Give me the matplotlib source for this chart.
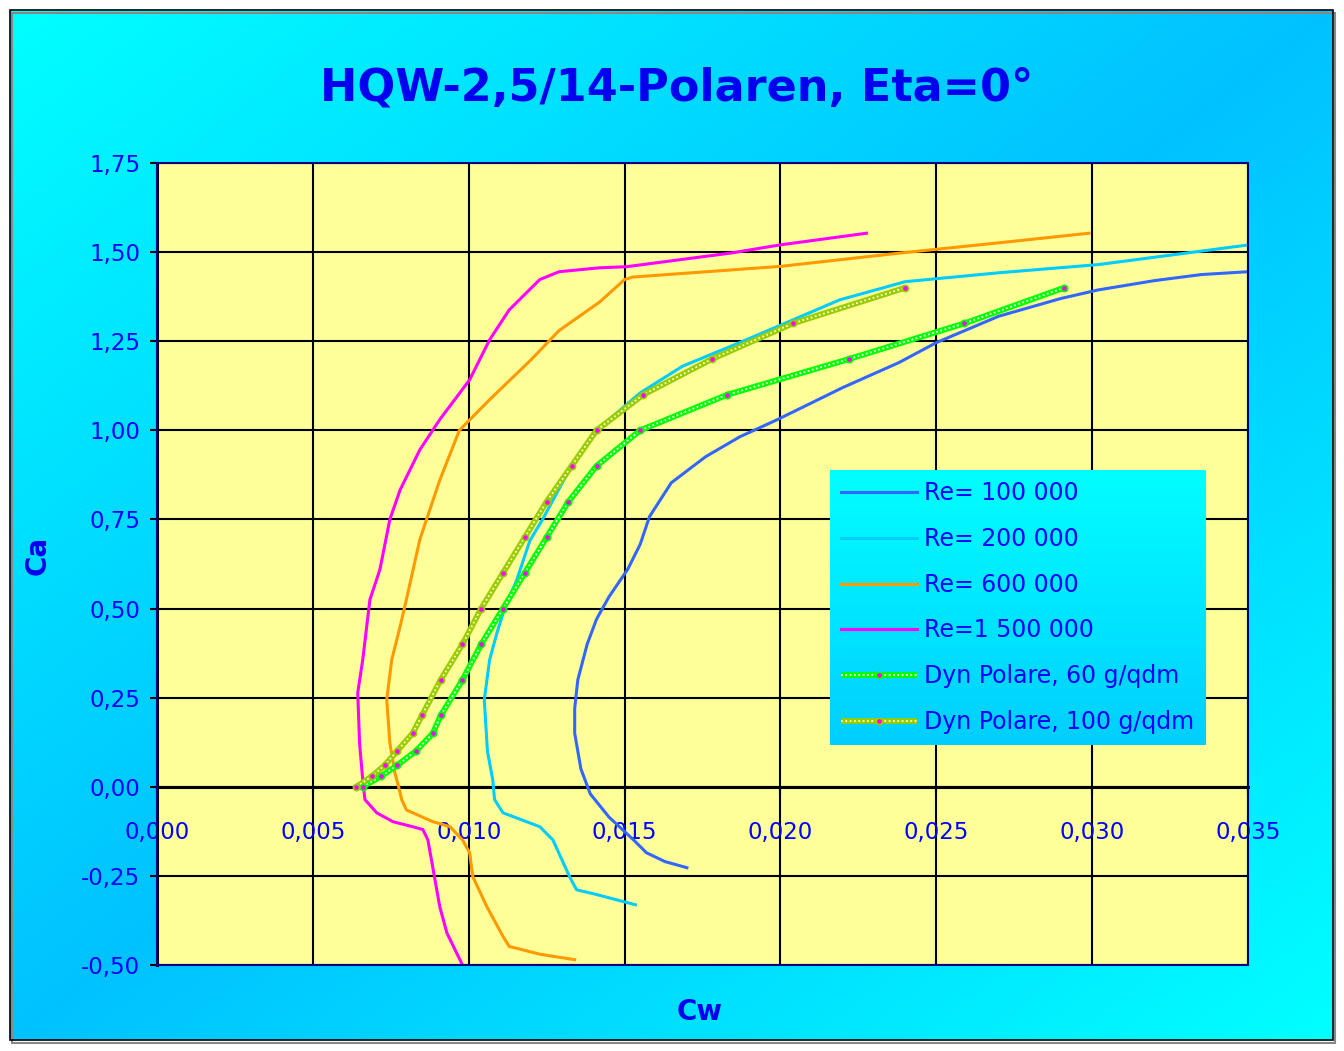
import matplotlib
matplotlib.use("Agg")
import matplotlib.pyplot as plt
from matplotlib.patches import Rectangle
import numpy as np

re100_cw = [0.0170, 0.0163, 0.0157, 0.0153, 0.0145, 0.0139, 0.0136, 0.0134, 0.0134, 0.0135,
            0.0138, 0.0141, 0.0145, 0.0151, 0.0155, 0.0158, 0.0165, 0.0176, 0.0187, 0.0199,
            0.0220, 0.0238, 0.0250, 0.0270, 0.0290, 0.0302, 0.0320, 0.0335, 0.0350]
re100_ca = [-0.227, -0.21, -0.185, -0.15, -0.085, -0.02, 0.05, 0.15, 0.22, 0.30,
            0.40, 0.47, 0.533, 0.61, 0.68, 0.758, 0.853, 0.926, 0.982, 1.03,
            1.12, 1.19, 1.246, 1.32, 1.37, 1.394, 1.42, 1.437, 1.445]

re200_cw = [0.01535, 0.0140, 0.01346, 0.01324, 0.0127, 0.01228, 0.0111, 0.01083, 0.01077, 0.0106,
            0.0105, 0.01067, 0.0109, 0.01115, 0.01154, 0.01196, 0.01237, 0.0128, 0.0133, 0.0141,
            0.0155, 0.01686, 0.01869, 0.0219, 0.0240, 0.0270, 0.0302, 0.0350]
re200_ca = [-0.331, -0.30, -0.289, -0.253, -0.149, -0.112, -0.073, -0.036, 0.02, 0.10,
            0.244, 0.356, 0.43, 0.50, 0.58, 0.69, 0.75, 0.82, 0.90, 1.00,
            1.105, 1.18, 1.246, 1.366, 1.417, 1.442, 1.465, 1.52]

re600_cw = [0.0134, 0.0123, 0.0113, 0.0111, 0.01058, 0.01013, 0.01003, 0.0098, 0.0094, 0.00885,
            0.0080, 0.00785, 0.0078, 0.00763, 0.00747, 0.00737, 0.00753, 0.0078, 0.0080, 0.00843,
            0.00907, 0.0097, 0.01067, 0.0120, 0.0129, 0.0142, 0.0150, 0.01526, 0.0200, 0.0238,
            0.0249, 0.0270, 0.0299]
re600_ca = [-0.485, -0.47, -0.448, -0.42, -0.336, -0.252, -0.185, -0.149, -0.112, -0.098,
            -0.065, -0.036, -0.017, 0.04, 0.123, 0.244, 0.356, 0.45, 0.525, 0.693,
            0.86, 1.0, 1.086, 1.198, 1.28, 1.36, 1.423, 1.43, 1.46, 1.497,
            1.507, 1.526, 1.553]

re1500_cw = [0.0098, 0.0093, 0.00907, 0.0089, 0.00869, 0.00853, 0.0082, 0.00757, 0.00705, 0.00667,
             0.0066, 0.0065, 0.00644, 0.0066, 0.00683, 0.00715, 0.00747, 0.0078, 0.00843, 0.00907,
             0.01003, 0.01067, 0.0113, 0.01228, 0.0129, 0.0142, 0.01506, 0.01846, 0.01997, 0.02276]
re1500_ca = [-0.5, -0.41, -0.336, -0.252, -0.149, -0.12, -0.112, -0.098, -0.073, -0.036,
             0.02, 0.12, 0.264, 0.356, 0.525, 0.609, 0.75, 0.833, 0.945, 1.03,
             1.142, 1.254, 1.338, 1.423, 1.445, 1.456, 1.459, 1.498, 1.52, 1.553]

dyn_ca = [0.0, 0.03, 0.06, 0.10, 0.15, 0.20, 0.30, 0.40, 0.50, 0.60,
          0.70, 0.80, 0.90, 1.00, 1.10, 1.20, 1.30, 1.40]
dyn60_cw = [0.0066, 0.0072, 0.0077, 0.0083, 0.00885, 0.0091, 0.0098, 0.0104, 0.0111, 0.0118,
            0.0125, 0.0132, 0.0141, 0.0155, 0.0183, 0.0222, 0.0259, 0.0291]
dyn100_cw = [0.0064, 0.0069, 0.0073, 0.0077, 0.0082, 0.0085, 0.0091, 0.0098, 0.0104, 0.0111,
             0.0118, 0.0125, 0.0133, 0.0141, 0.0156, 0.0178, 0.0204, 0.0240]

labels = ["Re= 100 000", "Re= 200 000", "Re= 600 000", "Re=1 500 000",
          "Dyn Polare, 60 g/qdm", "Dyn Polare, 100 g/qdm"]

xticks = [0.0, 0.005, 0.010, 0.015, 0.020, 0.025, 0.030, 0.035]
xticklabels = ["0,000", "0,005", "0,010", "0,015", "0,020", "0,025", "0,030", "0,035"]
yticks = [-0.5, -0.25, 0.0, 0.25, 0.5, 0.75, 1.0, 1.25, 1.5, 1.75]
yticklabels = ["-0,50", "-0,25", "0,00", "0,25", "0,50", "0,75", "1,00", "1,25", "1,50", "1,75"]

W, H = 1344, 1051
blau = "#0000ee"

fig = plt.figure(figsize=(W / 100, H / 100), dpi=100, facecolor="white")


def gradient(ext, diag=True):
    # cyan -> blau -> cyan entlang der Diagonale
    cyan = np.array([0.0, 1.0, 1.0])
    dunkel = np.array([0.0, 0.76, 1.0])
    u = np.linspace(0, 1, 200)
    v = np.linspace(0, 1, 200)
    U, V = np.meshgrid(u, v)
    if diag:
        t = (U + V) / 2
        w = 1 - np.abs(2 * t - 1)
    else:
        w = V * 0.8
    img = cyan[None, None, :] * (1 - w[..., None]) + dunkel[None, None, :] * w[..., None]
    g = fig.add_axes(ext, zorder=-10 if diag else 1)
    g.imshow(img, aspect="auto", extent=(0, 1, 1, 0), interpolation="bilinear")
    g.set_axis_off()
    return g


# Hintergrund
gradient([10 / W, 1 - 1040 / H, 1323 / W, 1030 / H])
fig.patches.append(Rectangle((12 / W, 1 - 1043 / H), 1323 / W, 1030 / H, transform=fig.transFigure,
                             fill=False, ec="#888888", lw=1.5, zorder=-9))
fig.patches.append(Rectangle((10 / W, 1 - 1040 / H), 1323 / W, 1030 / H, transform=fig.transFigure,
                             fill=False, ec="black", lw=1.2, zorder=-9))

ax = fig.add_axes([157 / W, 1 - 965 / H, (1248 - 157) / W, (965 - 163) / H])
ax.set_facecolor("#ffff99")

lw = 2.2
h1, = ax.plot(re100_cw, re100_ca, color="#3366ff", lw=lw, zorder=3)
h2, = ax.plot(re200_cw, re200_ca, color="#00ccff", lw=lw, zorder=3)
h3, = ax.plot(re600_cw, re600_ca, color="#ff9900", lw=lw, zorder=3)
h4, = ax.plot(re1500_cw, re1500_ca, color="#ff00ff", lw=lw, zorder=3)


def dyn(cw, farbe, punkte):
    a, = ax.plot(cw, dyn_ca, color=farbe, lw=4.2, zorder=4, solid_capstyle="butt")
    b, = ax.plot(cw, dyn_ca, color=punkte, lw=1.3, ls=(0, (1, 1.4)), zorder=4)
    c, = ax.plot(cw, dyn_ca, ls="none", marker="o", ms=4.5, mfc="#ff00ff", mec=farbe, mew=1.2, zorder=5)
    return (a, b, c)


h5 = dyn(dyn60_cw, "#00ff00", "white")
h6 = dyn(dyn100_cw, "#99cc00", "#ffffcc")

ax.set_xlim(0, 0.035)
ax.set_ylim(-0.5, 1.75)
ax.set_xticks(xticks)
ax.set_xticklabels(xticklabels)
ax.set_yticks(yticks)
ax.set_yticklabels(yticklabels)
ax.grid(True, color="black", lw=1.5)
ax.set_axisbelow(True)

ax.spines["bottom"].set_position(("data", 0))
ax.spines["bottom"].set_linewidth(2.2)
ax.spines["left"].set_linewidth(2.2)
ax.spines["top"].set_visible(False)
ax.spines["right"].set_visible(False)
ax.add_patch(Rectangle((0, 0), 1, 1, transform=ax.transAxes, fill=False, ec="#000080",
                       lw=1.5, zorder=6, clip_on=False))

ax.tick_params(axis="x", direction="out", length=5, width=1.5, pad=20,
               labelcolor="#0000ff", labelsize=16.5)
ax.tick_params(axis="y", direction="out", length=5, width=1.5, pad=7,
               labelcolor="#0000ff", labelsize=16.5)
for t in ax.get_xticklabels():
    t.set_zorder(2)

fig.text(677 / W, 1 - 88 / H, "HQW-2,5/14-Polaren, Eta=0°", ha="center", va="center",
         fontsize=32, fontweight="bold", color=blau)
fig.text(38 / W, 1 - 555 / H, "Ca", rotation=90, ha="center", va="center",
         fontsize=20, fontweight="bold", color=blau)
fig.text(700 / W, 1 - 1012 / H, "Cw", ha="center", va="center",
         fontsize=20, fontweight="bold", color=blau)

leg = fig.legend([h1, h2, h3, h4, h5, h6], labels, loc="upper left",
                 bbox_to_anchor=(830 / W, 1 - 470 / H), borderaxespad=0,
                 fontsize=17, labelcolor="#0000ff", handlelength=3.2, handletextpad=0.3,
                 labelspacing=0.92, borderpad=0.48, numpoints=1, fancybox=False,
                 framealpha=0, edgecolor="black")
leg.set_zorder(5)
leg.get_frame().set_linewidth(1.5)

fig.canvas.draw()
bb = leg.get_frame().get_window_extent().transformed(fig.transFigure.inverted())
gradient([bb.x0, bb.y0, bb.width, bb.height], diag=False)

fig.savefig("out.png", dpi=100, facecolor="white")
